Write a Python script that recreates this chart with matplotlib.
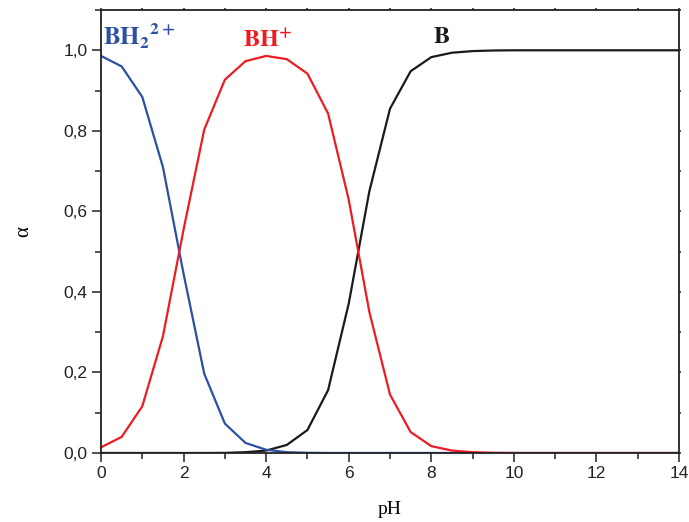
import matplotlib.pyplot as plt
from matplotlib.ticker import MultipleLocator, FuncFormatter

plt.rcParams['mathtext.fontset'] = 'stix'

pH = [0, 0.5, 1, 1.5, 2, 2.5, 3, 3.5, 4, 4.5, 5, 5.5, 6, 6.5, 7, 7.5,
      8, 8.5, 9, 9.5, 10, 10.5, 11, 11.5, 12, 12.5, 13, 13.5, 14]

bh2 = [0.986, 0.960, 0.884, 0.710, 0.445, 0.197, 0.073, 0.025, 0.008, 0.002, 0.0005, 0, 0, 0, 0, 0,
       0, 0, 0, 0, 0, 0, 0, 0, 0, 0, 0, 0, 0]
bh = [0.014, 0.040, 0.116, 0.290, 0.555, 0.803, 0.927, 0.973, 0.986, 0.978, 0.942, 0.843, 0.629, 0.350, 0.145, 0.052,
      0.017, 0.006, 0.002, 0.0005, 0, 0, 0, 0, 0, 0, 0, 0, 0]
b = [0, 0, 0, 0, 0, 0, 0.0003, 0.002, 0.006, 0.020, 0.057, 0.156, 0.371, 0.650, 0.855, 0.948,
     0.983, 0.994, 0.998, 0.9995, 1, 1, 1, 1, 1, 1, 1, 1, 1]

blue = '#2b50a3'
red = '#ec1c24'

fig = plt.figure(figsize=(6.89, 5.22), dpi=100)
ax = fig.add_axes([0.1466, 0.1322, 0.8389, 0.8486])

ax.plot(pH, b, color='#1a1a1a', lw=1.6)
ax.plot(pH, bh2, color=blue, lw=1.6)
ax.plot(pH, bh, color=red, lw=1.6)

ax.set_xlim(0, 14)
ax.set_ylim(0, 1.1)
ax.xaxis.set_major_locator(MultipleLocator(2))
ax.xaxis.set_minor_locator(MultipleLocator(1))
ax.yaxis.set_major_locator(MultipleLocator(0.2))
ax.yaxis.set_minor_locator(MultipleLocator(0.1))
ax.yaxis.set_major_formatter(FuncFormatter(lambda v, p: ('%.1f' % v).replace('.', ',')))

ax.tick_params(which='both', direction='out', top=True, right=True,
               labelsize=12.5, width=1.1, colors='#222222', pad=3, labelfontfamily='Liberation Sans')
ax.tick_params(which='major', length=6.5)
ax.tick_params(which='minor', length=4)
# tiny ticks on the top and right spines
for t in ax.xaxis.get_major_ticks() + ax.xaxis.get_minor_ticks():
    t.tick2line.set_markersize(1.5)
for t in ax.yaxis.get_major_ticks() + ax.yaxis.get_minor_ticks():
    t.tick2line.set_markersize(1.5)

for s in ax.spines.values():
    s.set_linewidth(1.3)
    s.set_color('#222222')

ax.set_xlabel('pH', family='Liberation Serif', fontsize=14, labelpad=14)
ax.set_ylabel('α', family='Liberation Serif', fontsize=15, labelpad=22)

ax.text(0.05, 1.012, r'$\mathbf{{BH_2}^{2+}}$', color=blue, fontsize=18, ha='left', va='baseline')
ax.text(3.44, 1.007, r'$\mathbf{BH^{+}}$', color=red, fontsize=17.5, ha='left', va='baseline')
ax.text(8.04, 1.017, r'$\mathbf{B}$', color='#1a1a1a', fontsize=17.5, ha='left', va='baseline')

fig.savefig('out.png', dpi=100)
